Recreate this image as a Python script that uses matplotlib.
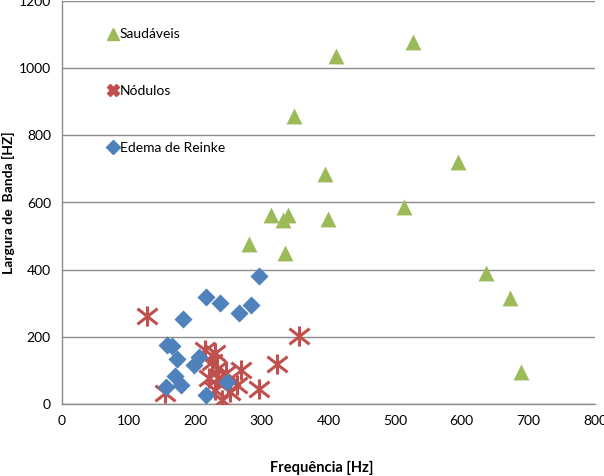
import numpy as np
import matplotlib
matplotlib.use('Agg')
from matplotlib import pyplot as plt
from matplotlib.path import Path
from matplotlib.lines import Line2D

plt.rcParams['font.family'] = ['Lato', 'DejaVu Sans']

# Saudáveis (frequência Hz, largura de banda Hz)
saud_x = [527, 412, 348, 594, 395, 513, 313, 339, 332, 399, 280, 334, 636, 672, 689]
saud_y = [1078, 1036, 858, 720, 686, 586, 564, 564, 549, 550, 477, 449, 391, 316, 96]

# Nódulos
nod_x = [128, 155, 215, 229, 225, 233, 246, 268, 220, 234, 262, 252, 230, 240, 296, 323, 355]
nod_y = [262, 32, 162, 152, 126, 104, 92, 100, 76, 76, 56, 37, 42, 12, 46, 119, 202]

# Edema de Reinke
ede_x = [157, 165, 173, 170, 179, 156, 182, 216, 237, 284, 266, 295, 206, 198, 216, 247]
ede_y = [175, 172, 133, 83, 56, 50, 252, 319, 302, 296, 271, 380, 140, 116, 27, 65]

green = '#9BBB59'
red = '#C0504D'
blue = '#4F81BD'

star = Path([(0, -1), (0, 1), (-1, -0.78), (1, 0.78), (-1, 0.78), (1, -0.78)],
            [Path.MOVETO, Path.LINETO, Path.MOVETO, Path.LINETO, Path.MOVETO, Path.LINETO])

fig = plt.figure(figsize=(6.04, 4.76), dpi=100)
ax = fig.add_axes([62/604, 72/476, 533/604, 403/476])

ax.scatter(saud_x, saud_y, marker='^', s=130, color=green, linewidths=0, zorder=3)
ax.scatter(nod_x, nod_y, marker=star, s=210, color=red, linewidths=2.2, zorder=3)
ax.scatter(ede_x, ede_y, marker='D', s=85, color=blue, linewidths=0, zorder=4)

ax.set_xlim(0, 800)
ax.set_ylim(0, 1200)
ax.set_xticks(np.arange(0, 801, 100))
ax.set_yticks(np.arange(0, 1201, 200))
ax.tick_params(length=0, labelsize=10, colors='black', pad=8)
ax.yaxis.grid(True, color='#8c8c8c', linewidth=1)
ax.set_axisbelow(True)
for s in ['top', 'right']:
    ax.spines[s].set_visible(False)
for s in ['left', 'bottom']:
    ax.spines[s].set_color('#8c8c8c')
    ax.spines[s].set_linewidth(1)

ax.set_xlabel('Frequência [Hz]', fontsize=10.5, fontweight='bold')
ax.xaxis.set_label_coords(0.488, -0.14)
ax.set_ylabel('Largura de  Banda [HZ]', fontsize=10, fontweight='bold')
ax.yaxis.set_label_coords(-0.088, 0.5)

handles = [Line2D([], [], marker='^', color=green, linestyle='none', markersize=9),
           Line2D([], [], marker='X', color=red, linestyle='none', markersize=9),
           Line2D([], [], marker='D', color=blue, linestyle='none', markersize=7)]
ax.legend(handles, ['Saudáveis', 'Nódulos', 'Edema de Reinke'], loc='upper left',
          bbox_to_anchor=(0.063, 0.963), frameon=False, fontsize=10,
          labelspacing=3.23, handlelength=0.7, handletextpad=0.15)

fig.savefig('out.png', dpi=100)
